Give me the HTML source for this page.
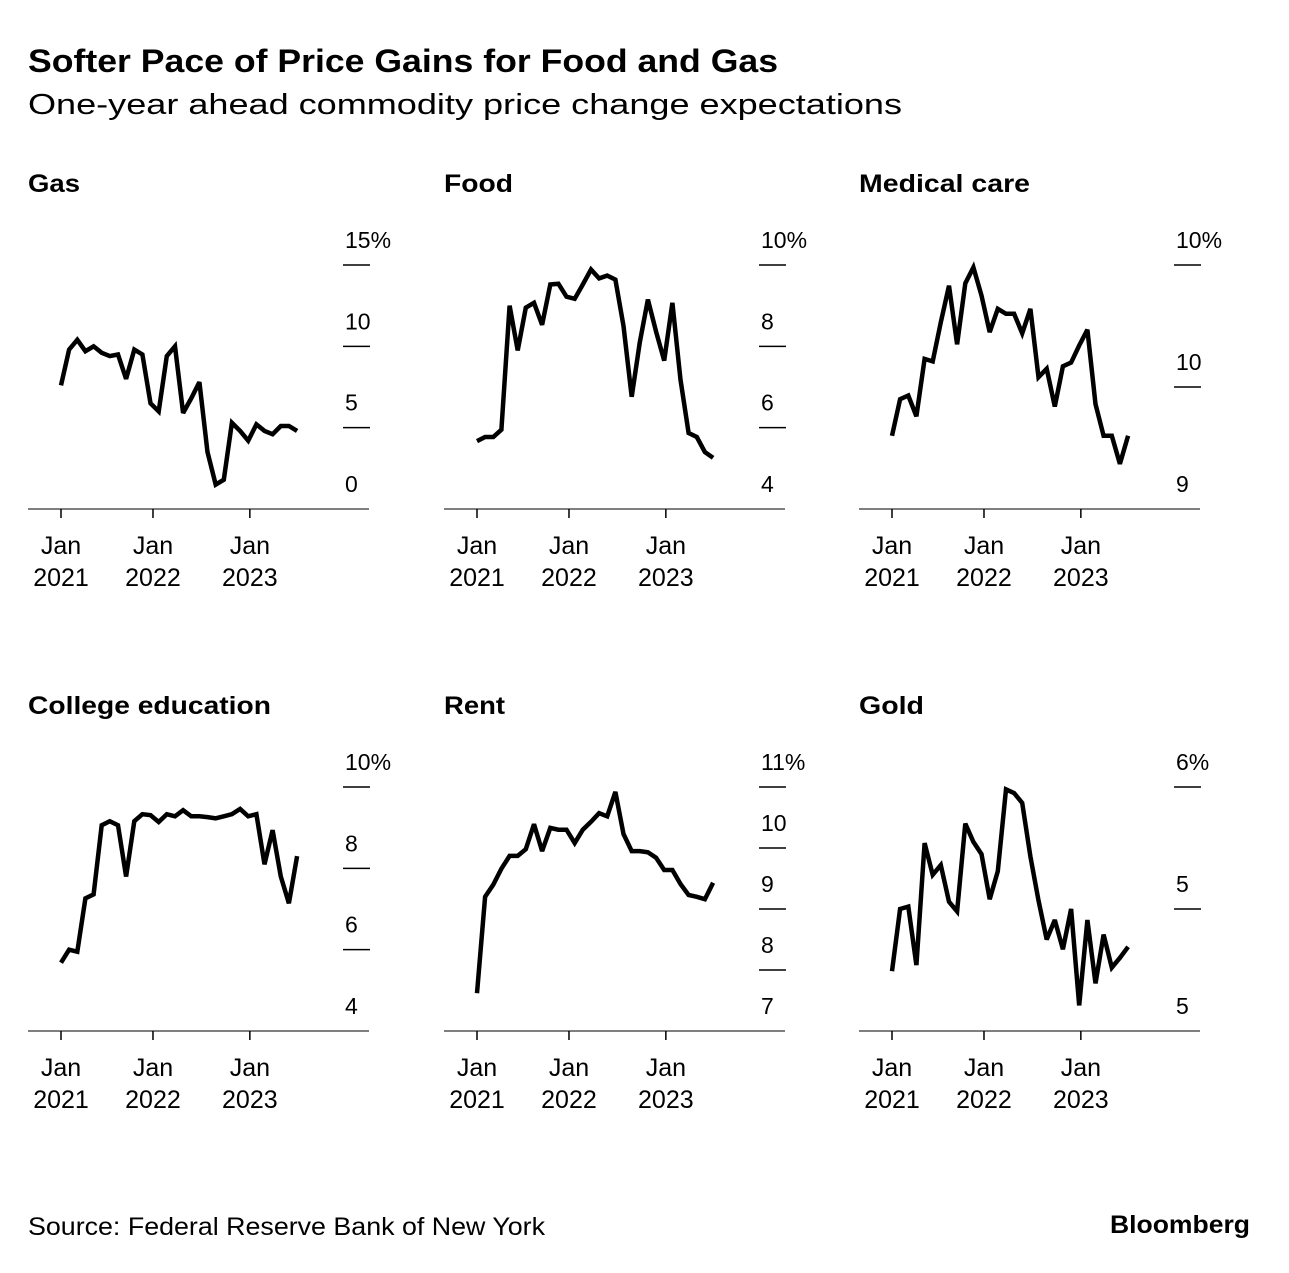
<!DOCTYPE html>
<html><head><meta charset="utf-8">
<style>
body{margin:0;background:#fff;width:1289px;height:1268px;overflow:hidden;font-family:"Liberation Sans",Arial,sans-serif;color:#000}
svg text{font-family:"Liberation Sans",Arial,sans-serif}
</style></head><body>
<svg id="c" width="1289" height="1268" viewBox="0 0 1289 1268">
<text x="28" y="72" font-size="32" font-weight="bold" textLength="750" lengthAdjust="spacingAndGlyphs">Softer Pace of Price Gains for Food and Gas</text>
<text x="28" y="114" font-size="29" textLength="874" lengthAdjust="spacingAndGlyphs">One-year ahead commodity price change expectations</text>
<text x="28" y="1235" font-size="25" textLength="517" lengthAdjust="spacingAndGlyphs">Source: Federal Reserve Bank of New York</text>
<text x="1250" y="1233" font-size="25" font-weight="bold" text-anchor="end" textLength="140" lengthAdjust="spacingAndGlyphs">Bloomberg</text>
</svg>
<script>
const titles=["Gas","Food","Medical care","College education","Rent","Gold"];
const gasValues=[7.6,9.8,10.4,9.7,10,9.6,9.4,9.5,8,9.8,9.5,6.5,6,9.4,10,5.9,6.8,7.8,3.5,1.5,1.8,5.3,4.8,4.2,5.2,4.8,4.6,5.1,5.1,4.8];
const foodValues=[5.67,5.77,5.77,5.95,9.0,7.9,8.95,9.07,8.53,9.52,9.54,9.22,9.17,9.52,9.89,9.67,9.74,9.64,8.5,6.76,8.1,9.15,8.36,7.65,9.07,7.18,5.87,5.77,5.4,5.26];
const medicalValues=[9.6,9.9,9.93,9.76,10.23,10.21,10.53,10.83,10.35,10.85,10.98,10.75,10.45,10.64,10.6,10.6,10.44,10.64,10.08,10.15,9.84,10.17,10.2,10.34,10.47,9.86,9.6,9.6,9.37,9.6];
const collegeValues=[5.68,6,5.95,7.26,7.36,9.06,9.16,9.06,7.8,9.16,9.33,9.31,9.14,9.33,9.28,9.43,9.28,9.28,9.26,9.23,9.28,9.33,9.46,9.28,9.33,8.1,8.94,7.8,7.14,8.3];
const rentValues=[7.62,9.2,9.4,9.66,9.87,9.87,9.98,10.39,9.95,10.33,10.3,10.3,10.08,10.3,10.43,10.57,10.52,10.92,10.23,9.95,9.95,9.93,9.84,9.64,9.64,9.41,9.23,9.2,9.16,9.43];
const goldValues=[4.49,5.0,5.02,4.54,5.54,5.28,5.36,5.06,4.98,5.7,5.55,5.45,5.08,5.31,5.98,5.95,5.87,5.43,5.07,4.75,4.91,4.67,5.0,4.21,4.91,4.39,4.79,4.52,4.6,4.69];
const series=[gasValues,foodValues,medicalValues,collegeValues,rentValues,goldValues];
const yDomains=[[0,15],[4,10],[9,11],[4,10],[7,11],[4,6]];
const gasTicks=[0,5,10,15],gasTickLabels=["0","5","10","15%"];
const foodTicks=[4,6,8,10],foodTickLabels=["4","6","8","10%"];
const medicalTicks=[9,10,11],medicalTickLabels=["9","10","10%"];
const collegeTicks=[4,6,8,10],collegeTickLabels=["4","6","8","10%"];
const rentTicks=[7,8,9,10,11],rentTickLabels=["7","8","9","10","11%"];
const goldTicks=[4,5,6],goldTickLabels=["5","5","6%"];
const yTicks=[gasTicks,foodTicks,medicalTicks,collegeTicks,rentTicks,goldTicks];
const yTickLabels=[gasTickLabels,foodTickLabels,medicalTickLabels,collegeTickLabels,rentTickLabels,goldTickLabels];
const xTickPos=[0,11.3,23.2];
const xTickLabels=[["Jan","2021"],["Jan","2022"],["Jan","2023"]];
const titleWidths=[52,69,171,243,61,65];
const NS="http://www.w3.org/2000/svg";
const svg=document.getElementById('c');
function mk(tag,attrs,parent){const e=document.createElementNS(NS,tag);for(const k in attrs)e.setAttribute(k,attrs[k]);(parent||svg).appendChild(e);return e;}
const colX=[28,444,859],rowY=[0,522];
for(let p=0;p<6;p++){
  const x0=colX[p%3],dy=rowY[Math.floor(p/3)];
  const g=mk('g',{transform:`translate(${x0},${dy})`});
  
  
  const top=265,bot=509;
  const [d0,d1]=yDomains[p];
  const ys=v=>bot-(v-d0)/(d1-d0)*(bot-top);
  const xs=m=>33+m*8.14;
  const t=mk('text',{x:0,y:192,'font-size':25,'font-weight':'bold',textLength:titleWidths[p],lengthAdjust:'spacingAndGlyphs'},g);t.textContent=titles[p];
  
  
  mk('line',{x1:0,x2:341,y1:bot,y2:bot,stroke:'#555','stroke-width':1.5},g);
  yTicks[p].forEach((v,i)=>{
    const y=ys(v);
    if(v!==d0){const l=mk('line',{x1:315,x2:342,y1:y,y2:y,stroke:'#000','stroke-width':1.5},g);}
    const tx=mk('text',{x:317,y:y-17,'font-size':23},g);tx.textContent=yTickLabels[p][i];
    
    
  });
  xTickPos.forEach((m,i)=>{
    const x=xs(m);
    mk('line',{x1:x,x2:x,y1:bot,y2:bot+9,stroke:'#000','stroke-width':1.5},g);
    const a=mk('text',{x:x,y:554,'font-size':25,'text-anchor':'middle'},g);a.textContent=xTickLabels[i][0];
    
    
    const b=mk('text',{x:x,y:586,'font-size':25,'text-anchor':'middle'},g);b.textContent=xTickLabels[i][1];
    
    
  });
  const pts=series[p].map((v,i)=>xs(i).toFixed(1)+','+ys(v).toFixed(1)).join(' ');
  const pl=mk('polyline',{points:pts,fill:'none',stroke:'#000','stroke-width':4.5,'stroke-linejoin':'miter','stroke-miterlimit':3},g);
  
  
}
</script>
</body></html>
